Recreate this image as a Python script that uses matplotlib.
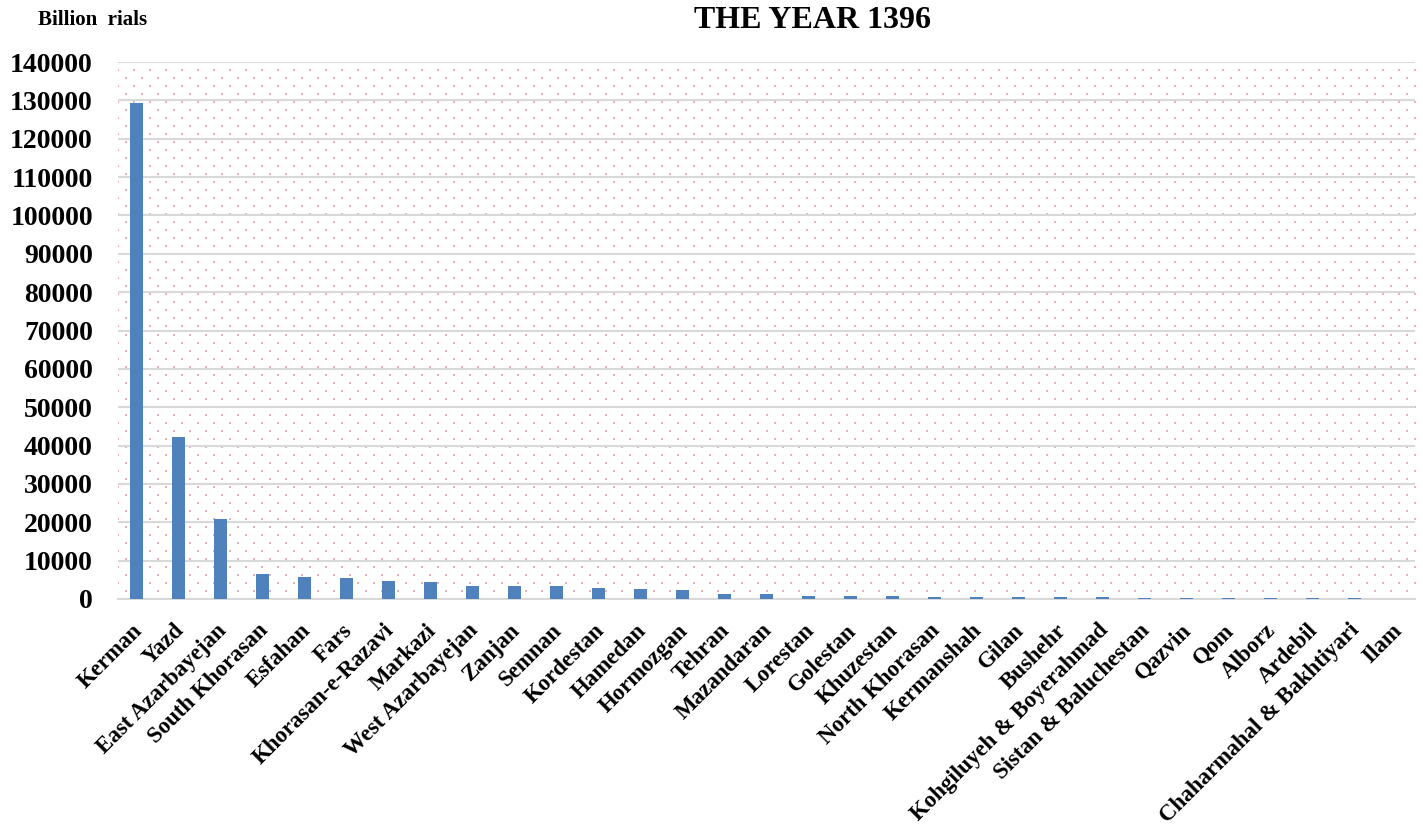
"""Bar chart: provincial values for the year 1396 (billion rials)."""

import matplotlib as mpl
import matplotlib.pyplot as plt
import matplotlib.transforms as mtransforms
import numpy as np

mpl.rcParams.update(
    {
        "font.family": "Liberation Serif",
        "font.weight": "bold",
    }
)

BAR_C = "#4f81bd"
GRID_C = "#d9d9d9"
DOT_C = "#e3b5b5"

provinces = [
    "Kerman", "Yazd", "East Azarbayejan", "South Khorasan", "Esfahan", "Fars",
    "Khorasan-e-Razavi", "Markazi", "West Azarbayejan", "Zanjan", "Semnan",
    "Kordestan", "Hamedan", "Hormozgan", "Tehran", "Mazandaran", "Lorestan",
    "Golestan", "Khuzestan", "North Khorasan", "Kermanshah", "Gilan", "Bushehr",
    "Kohgiluyeh & Boyerahmad", "Sistan & Baluchestan", "Qazvin", "Qom",
    "Alborz", "Ardebil", "Chaharmahal & Bakhtiyari", "Ilam",
]
values = [
    129300, 42200, 20900, 6400, 5800, 5400,
    4600, 4500, 3400, 3300, 3300,
    2800, 2600, 2300, 1400, 1300, 900,
    850, 800, 600, 600, 500, 500,
    450, 350, 300, 250,
    200, 200, 150, 100,
]
yticks = list(range(0, 140001, 10000))

fig = plt.figure(figsize=(14.23, 8.4), dpi=100)
ax = fig.add_axes([118 / 1423, 1 - 599 / 840, 1297 / 1423, 537 / 840])

# dotted background pattern
nx, ny = 81, 67
pts = []
for j in range(ny + 1):
    off = 0.5 if j % 2 else 0.0
    for i in range(nx + 1):
        pts.append(((i + off) / nx, j / ny))
pts = np.array(pts)
pts = pts[(pts[:, 0] <= 1) & (pts[:, 1] <= 1)]
ax.scatter(pts[:, 0], pts[:, 1], s=1.8, marker="s", color=DOT_C, lw=0,
           transform=ax.transAxes, zorder=0, clip_on=True)

x = np.arange(len(provinces))
ax.bar(x, values, width=0.31, color=BAR_C, zorder=3)

ax.set_xlim(-0.45, len(provinces) - 0.55)
ax.set_ylim(0, 140000)
ax.set_yticks(yticks)
ax.set_yticklabels([str(v) for v in yticks], fontsize=20, fontweight="bold")
ax.tick_params(axis="y", length=0, pad=18)
ax.set_xticks(x)
ax.set_xticklabels([])
ax.tick_params(axis="x", length=0)

# rotated category labels, anchored just below each bar like the original
trans = ax.get_xaxis_transform() + mtransforms.ScaledTranslation(
    -5 / 100, -21 / 100, fig.dpi_scale_trans)
for xi, name in zip(x, provinces):
    ax.text(xi, 0, name, transform=trans, rotation=45, ha="right", va="top",
            rotation_mode="anchor", fontsize=16.5, fontweight="bold")

ax.grid(axis="y", color=GRID_C, lw=1.5, zorder=1)
ax.set_axisbelow(True)
for s in ("top", "right", "left"):
    ax.spines[s].set_visible(False)
ax.spines["bottom"].set_color(GRID_C)
ax.spines["bottom"].set_linewidth(1.5)

fig.text(812 / 1423, 1 - 20 / 840, "THE YEAR 1396", ha="center", va="center",
         fontsize=23, fontweight="bold")
fig.text(38 / 1423, 1 - 20 / 840, "Billion  rials", ha="left", va="center",
         fontsize=15, fontweight="bold")

fig.savefig("out.png", dpi=100)
